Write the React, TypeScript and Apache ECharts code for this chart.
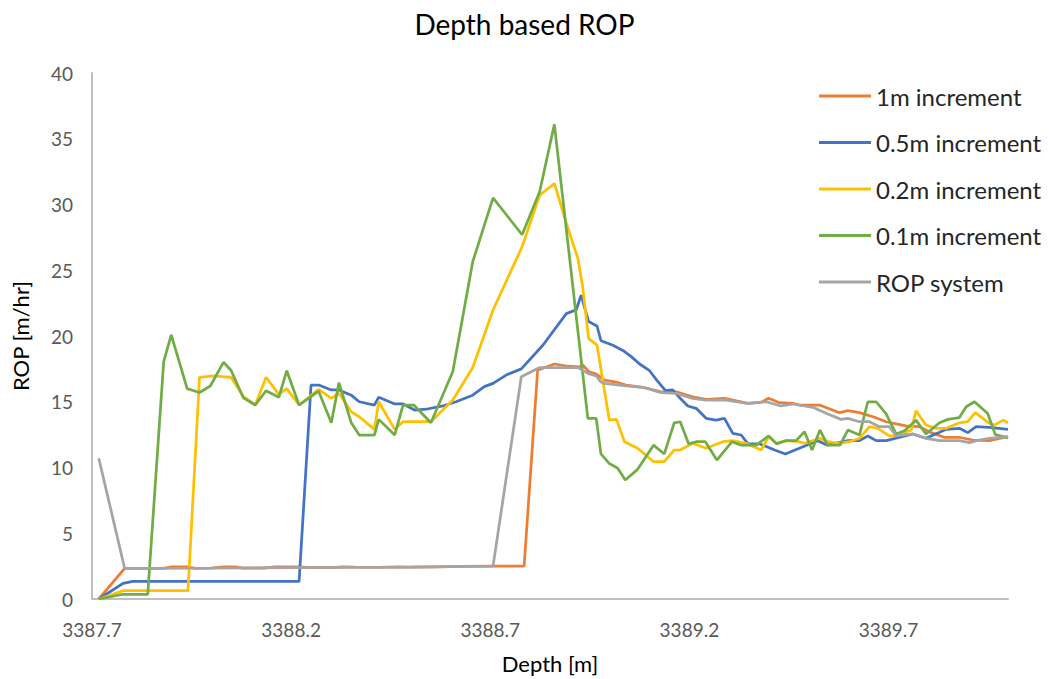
import React, { useEffect, useRef } from "react";
import * as echarts from "echarts";

const seriesNames = ["1m increment", "0.5m increment", "0.2m increment", "0.1m increment", "ROP system"];
const seriesColors = ["#ED7D31", "#4472C4", "#FFC000", "#70AD47", "#A5A5A5"];
const depthTicks = [3387.7, 3388.2, 3388.7, 3389.2, 3389.7];

const depth1m = [3387.717, 3387.782, 3387.88, 3387.9, 3387.94, 3387.96, 3388.0, 3388.03, 3388.06, 3388.08, 3388.13, 3388.16, 3388.22, 3388.25, 3388.3, 3388.33, 3388.36, 3388.42, 3388.47, 3388.5, 3388.56, 3388.62, 3388.707, 3388.785, 3388.819, 3388.861, 3388.895, 3388.924, 3388.932, 3388.947, 3388.966, 3388.987, 3389.016, 3389.041, 3389.083, 3389.129, 3389.167, 3389.208, 3389.242, 3389.288, 3389.309, 3389.347, 3389.38, 3389.399, 3389.426, 3389.46, 3389.476, 3389.527, 3389.577, 3389.598, 3389.627, 3389.665, 3389.694, 3389.744, 3389.778, 3389.807, 3389.84, 3389.878, 3389.911, 3389.953, 3390.0];
const rop1m = [0, 2.33, 2.33, 2.45, 2.45, 2.33, 2.35, 2.45, 2.45, 2.35, 2.35, 2.45, 2.45, 2.38, 2.38, 2.45, 2.42, 2.4, 2.45, 2.42, 2.45, 2.48, 2.5, 2.5, 17.4, 17.87, 17.7, 17.66, 17.8, 17.3, 17.1, 16.65, 16.5, 16.27, 16.1, 15.76, 15.76, 15.38, 15.19, 15.26, 15.13, 14.88, 14.95, 15.26, 14.93, 14.88, 14.75, 14.75, 14.17, 14.32, 14.17, 13.82, 13.48, 13.16, 13.1, 12.65, 12.3, 12.3, 12.09, 12.04, 12.34];

const depth05 = [3387.717, 3387.778, 3387.802, 3388.22, 3388.25, 3388.269, 3388.301, 3388.32, 3388.351, 3388.371, 3388.409, 3388.42, 3388.46, 3388.481, 3388.51, 3388.539, 3388.581, 3388.614, 3388.656, 3388.685, 3388.707, 3388.74, 3388.778, 3388.832, 3388.891, 3388.916, 3388.928, 3388.947, 3388.968, 3388.978, 3389.008, 3389.033, 3389.054, 3389.075, 3389.1, 3389.118, 3389.14, 3389.158, 3389.177, 3389.196, 3389.217, 3389.242, 3389.267, 3389.288, 3389.309, 3389.33, 3389.347, 3389.376, 3389.414, 3389.441, 3389.476, 3389.522, 3389.547, 3389.598, 3389.627, 3389.648, 3389.669, 3389.694, 3389.761, 3389.794, 3389.845, 3389.878, 3389.899, 3389.92, 3389.953, 3390.0];
const rop05 = [0, 1.19, 1.34, 1.34, 16.27, 16.27, 15.9, 15.9, 15.5, 15.0, 14.75, 15.34, 14.83, 14.83, 14.37, 14.43, 14.68, 15.0, 15.5, 16.15, 16.4, 17.03, 17.5, 19.3, 21.7, 22.0, 23.1, 21.1, 20.76, 19.64, 19.3, 18.9, 18.43, 17.87, 17.36, 16.65, 15.84, 15.9, 15.26, 14.68, 14.5, 13.74, 13.6, 13.74, 12.6, 12.47, 11.8, 11.8, 11.33, 11.03, 11.46, 12.04, 11.7, 12.04, 12.04, 12.4, 12.04, 12.04, 12.55, 12.22, 12.9, 12.98, 12.65, 13.1, 13.06, 12.9];

const depth02 = [3387.717, 3387.778, 3387.941, 3387.97, 3388.005, 3388.049, 3388.08, 3388.11, 3388.137, 3388.169, 3388.189, 3388.22, 3388.269, 3388.301, 3388.32, 3388.351, 3388.371, 3388.409, 3388.42, 3388.46, 3388.481, 3388.551, 3388.606, 3388.656, 3388.707, 3388.78, 3388.824, 3388.861, 3388.891, 3388.92, 3388.932, 3388.947, 3388.968, 3388.999, 3389.017, 3389.037, 3389.07, 3389.11, 3389.137, 3389.162, 3389.177, 3389.208, 3389.242, 3389.284, 3389.309, 3389.342, 3389.38, 3389.399, 3389.418, 3389.443, 3389.476, 3389.489, 3389.51, 3389.527, 3389.547, 3389.577, 3389.602, 3389.627, 3389.652, 3389.673, 3389.702, 3389.719, 3389.757, 3389.769, 3389.794, 3389.82, 3389.845, 3389.878, 3389.899, 3389.918, 3389.953, 3389.966, 3389.988, 3390.0];
const rop02 = [0, 0.63, 0.63, 16.86, 16.96, 16.86, 15.4, 14.75, 16.86, 15.56, 16.0, 14.75, 15.95, 15.26, 15.64, 14.24, 13.86, 12.9, 15.0, 12.9, 13.48, 13.48, 15.13, 17.6, 21.98, 26.8, 30.7, 31.6, 28.57, 25.9, 23.75, 19.8, 19.3, 13.6, 13.66, 11.96, 11.46, 10.44, 10.44, 11.33, 11.33, 11.84, 11.46, 11.96, 12.04, 11.84, 11.33, 12.34, 11.84, 12.04, 11.96, 11.84, 12.04, 12.22, 11.96, 11.84, 11.96, 12.22, 13.1, 12.98, 12.4, 12.4, 12.85, 14.32, 13.23, 12.98, 12.98, 13.4, 13.48, 14.17, 13.36, 13.23, 13.6, 13.4];

const depth01 = [3387.717, 3387.778, 3387.84, 3387.88, 3387.899, 3387.939, 3387.97, 3387.997, 3388.03, 3388.049, 3388.08, 3388.11, 3388.137, 3388.169, 3388.189, 3388.22, 3388.269, 3388.301, 3388.32, 3388.351, 3388.371, 3388.409, 3388.42, 3388.46, 3388.481, 3388.508, 3388.551, 3388.606, 3388.656, 3388.707, 3388.78, 3388.824, 3388.861, 3388.945, 3388.966, 3388.978, 3388.999, 3389.02, 3389.039, 3389.07, 3389.11, 3389.137, 3389.162, 3389.177, 3389.198, 3389.217, 3389.24, 3389.269, 3389.307, 3389.33, 3389.368, 3389.399, 3389.419, 3389.443, 3389.468, 3389.489, 3389.508, 3389.528, 3389.547, 3389.578, 3389.598, 3389.627, 3389.648, 3389.669, 3389.694, 3389.719, 3389.74, 3389.769, 3389.794, 3389.828, 3389.849, 3389.878, 3389.895, 3389.916, 3389.949, 3389.968, 3390.0];
const rop01 = [0, 0.36, 0.36, 18.05, 20.08, 16.0, 15.7, 16.2, 18.0, 17.4, 15.3, 14.75, 15.84, 15.34, 17.36, 14.75, 15.8, 13.4, 16.45, 13.4, 12.47, 12.47, 13.66, 12.47, 14.75, 14.75, 13.4, 17.3, 25.65, 30.5, 27.7, 30.97, 36.1, 13.74, 13.74, 11.03, 10.3, 9.94, 9.05, 9.86, 11.7, 11.03, 13.4, 13.48, 11.8, 11.96, 11.96, 10.57, 11.96, 11.7, 11.7, 12.4, 11.8, 12.04, 12.04, 12.72, 11.33, 12.85, 11.7, 11.7, 12.85, 12.47, 15.0, 15.0, 14.07, 12.55, 12.8, 13.6, 12.55, 13.4, 13.66, 13.8, 14.62, 15.0, 14.1, 12.5, 12.25];

const depthSys = [3387.717, 3387.782, 3388.0, 3388.3, 3388.5, 3388.707, 3388.778, 3388.824, 3388.92, 3388.945, 3388.966, 3388.978, 3388.987, 3389.041, 3389.083, 3389.129, 3389.167, 3389.208, 3389.242, 3389.288, 3389.347, 3389.393, 3389.43, 3389.46, 3389.51, 3389.543, 3389.581, 3389.598, 3389.627, 3389.652, 3389.677, 3389.702, 3389.719, 3389.761, 3389.794, 3389.828, 3389.878, 3389.903, 3389.928, 3389.953, 3390.0];
const ropSys = [10.7, 2.33, 2.35, 2.4, 2.42, 2.5, 16.9, 17.6, 17.6, 17.16, 16.96, 16.5, 16.4, 16.2, 16.1, 15.69, 15.64, 15.26, 15.13, 15.15, 14.88, 15.0, 14.68, 14.83, 14.58, 14.12, 13.66, 13.74, 13.48, 13.48, 13.1, 13.1, 12.4, 12.55, 12.22, 12.04, 12.04, 11.89, 12.09, 12.22, 12.34];

const depthSets = [depth1m, depth05, depth02, depth01, depthSys];
const ropSets = [rop1m, rop05, rop02, rop01, ropSys];

const FONT = "Lato, 'Open Sans', sans-serif";

export default function App() {
  const ref = useRef<HTMLDivElement>(null);

  useEffect(() => {
    if (!ref.current) return;
    const chart = echarts.init(ref.current, null, { renderer: "svg" });
    const series = seriesNames.map((name, k) => ({
      name,
      type: "line",
      data: depthSets[k].map((d, i) => [d, ropSets[k][i]]),
      symbol: "none",
      showSymbol: false,
      lineStyle: { color: seriesColors[k], width: 2.75 },
      itemStyle: { color: seriesColors[k] },
      z: 2 + k,
    }));
    chart.setOption({
      animation: false,
      backgroundColor: "#ffffff",
      textStyle: { fontFamily: FONT },
      title: {
        text: "Depth based ROP",
        left: "center",
        top: 5,
        textStyle: { fontFamily: FONT, fontSize: 28, fontWeight: "normal", color: "#000000" },
      },
      legend: {
        orient: "vertical",
        left: 814,
        top: 79,
        icon: "rect",
        itemWidth: 52,
        itemHeight: 3,
        itemGap: 22.5,
        data: seriesNames,
        textStyle: { fontFamily: FONT, fontSize: 24, color: "#262626", lineHeight: 24 },
      },
      grid: { left: 92, right: 41, top: 73, bottom: 80 },
      xAxis: {
        type: "value",
        min: 3387.7,
        max: 3390,
        name: "Depth [m]",
        nameLocation: "middle",
        nameGap: 53,
        nameTextStyle: { fontFamily: FONT, fontSize: 22, color: "#000000" },
        axisLine: { show: true, lineStyle: { color: "#BFBFBF", width: 2 } },
        axisTick: { show: false },
        splitLine: { show: false },
        axisLabel: {
          customValues: depthTicks,
          formatter: (v: number) => v.toFixed(1),
          fontFamily: FONT,
          fontSize: 19,
          color: "#595959",
          margin: 21,
        },
      },
      yAxis: {
        type: "value",
        min: 0,
        max: 40,
        interval: 5,
        name: "ROP [m/hr]",
        nameLocation: "middle",
        nameGap: 61,
        nameRotate: 90,
        nameTextStyle: { fontFamily: FONT, fontSize: 22, color: "#000000" },
        axisLine: { show: true, lineStyle: { color: "#BFBFBF", width: 2 } },
        axisTick: { show: false },
        splitLine: { show: false },
        axisLabel: { fontFamily: FONT, fontSize: 19, color: "#595959", margin: 19 },
      },
      series,
    });
    return () => chart.dispose();
  }, []);

  return (
    <div
      ref={ref}
      style={{ position: "absolute", left: 0, top: 0, width: 1049, height: 679, background: "#fff" }}
    />
  );
}
